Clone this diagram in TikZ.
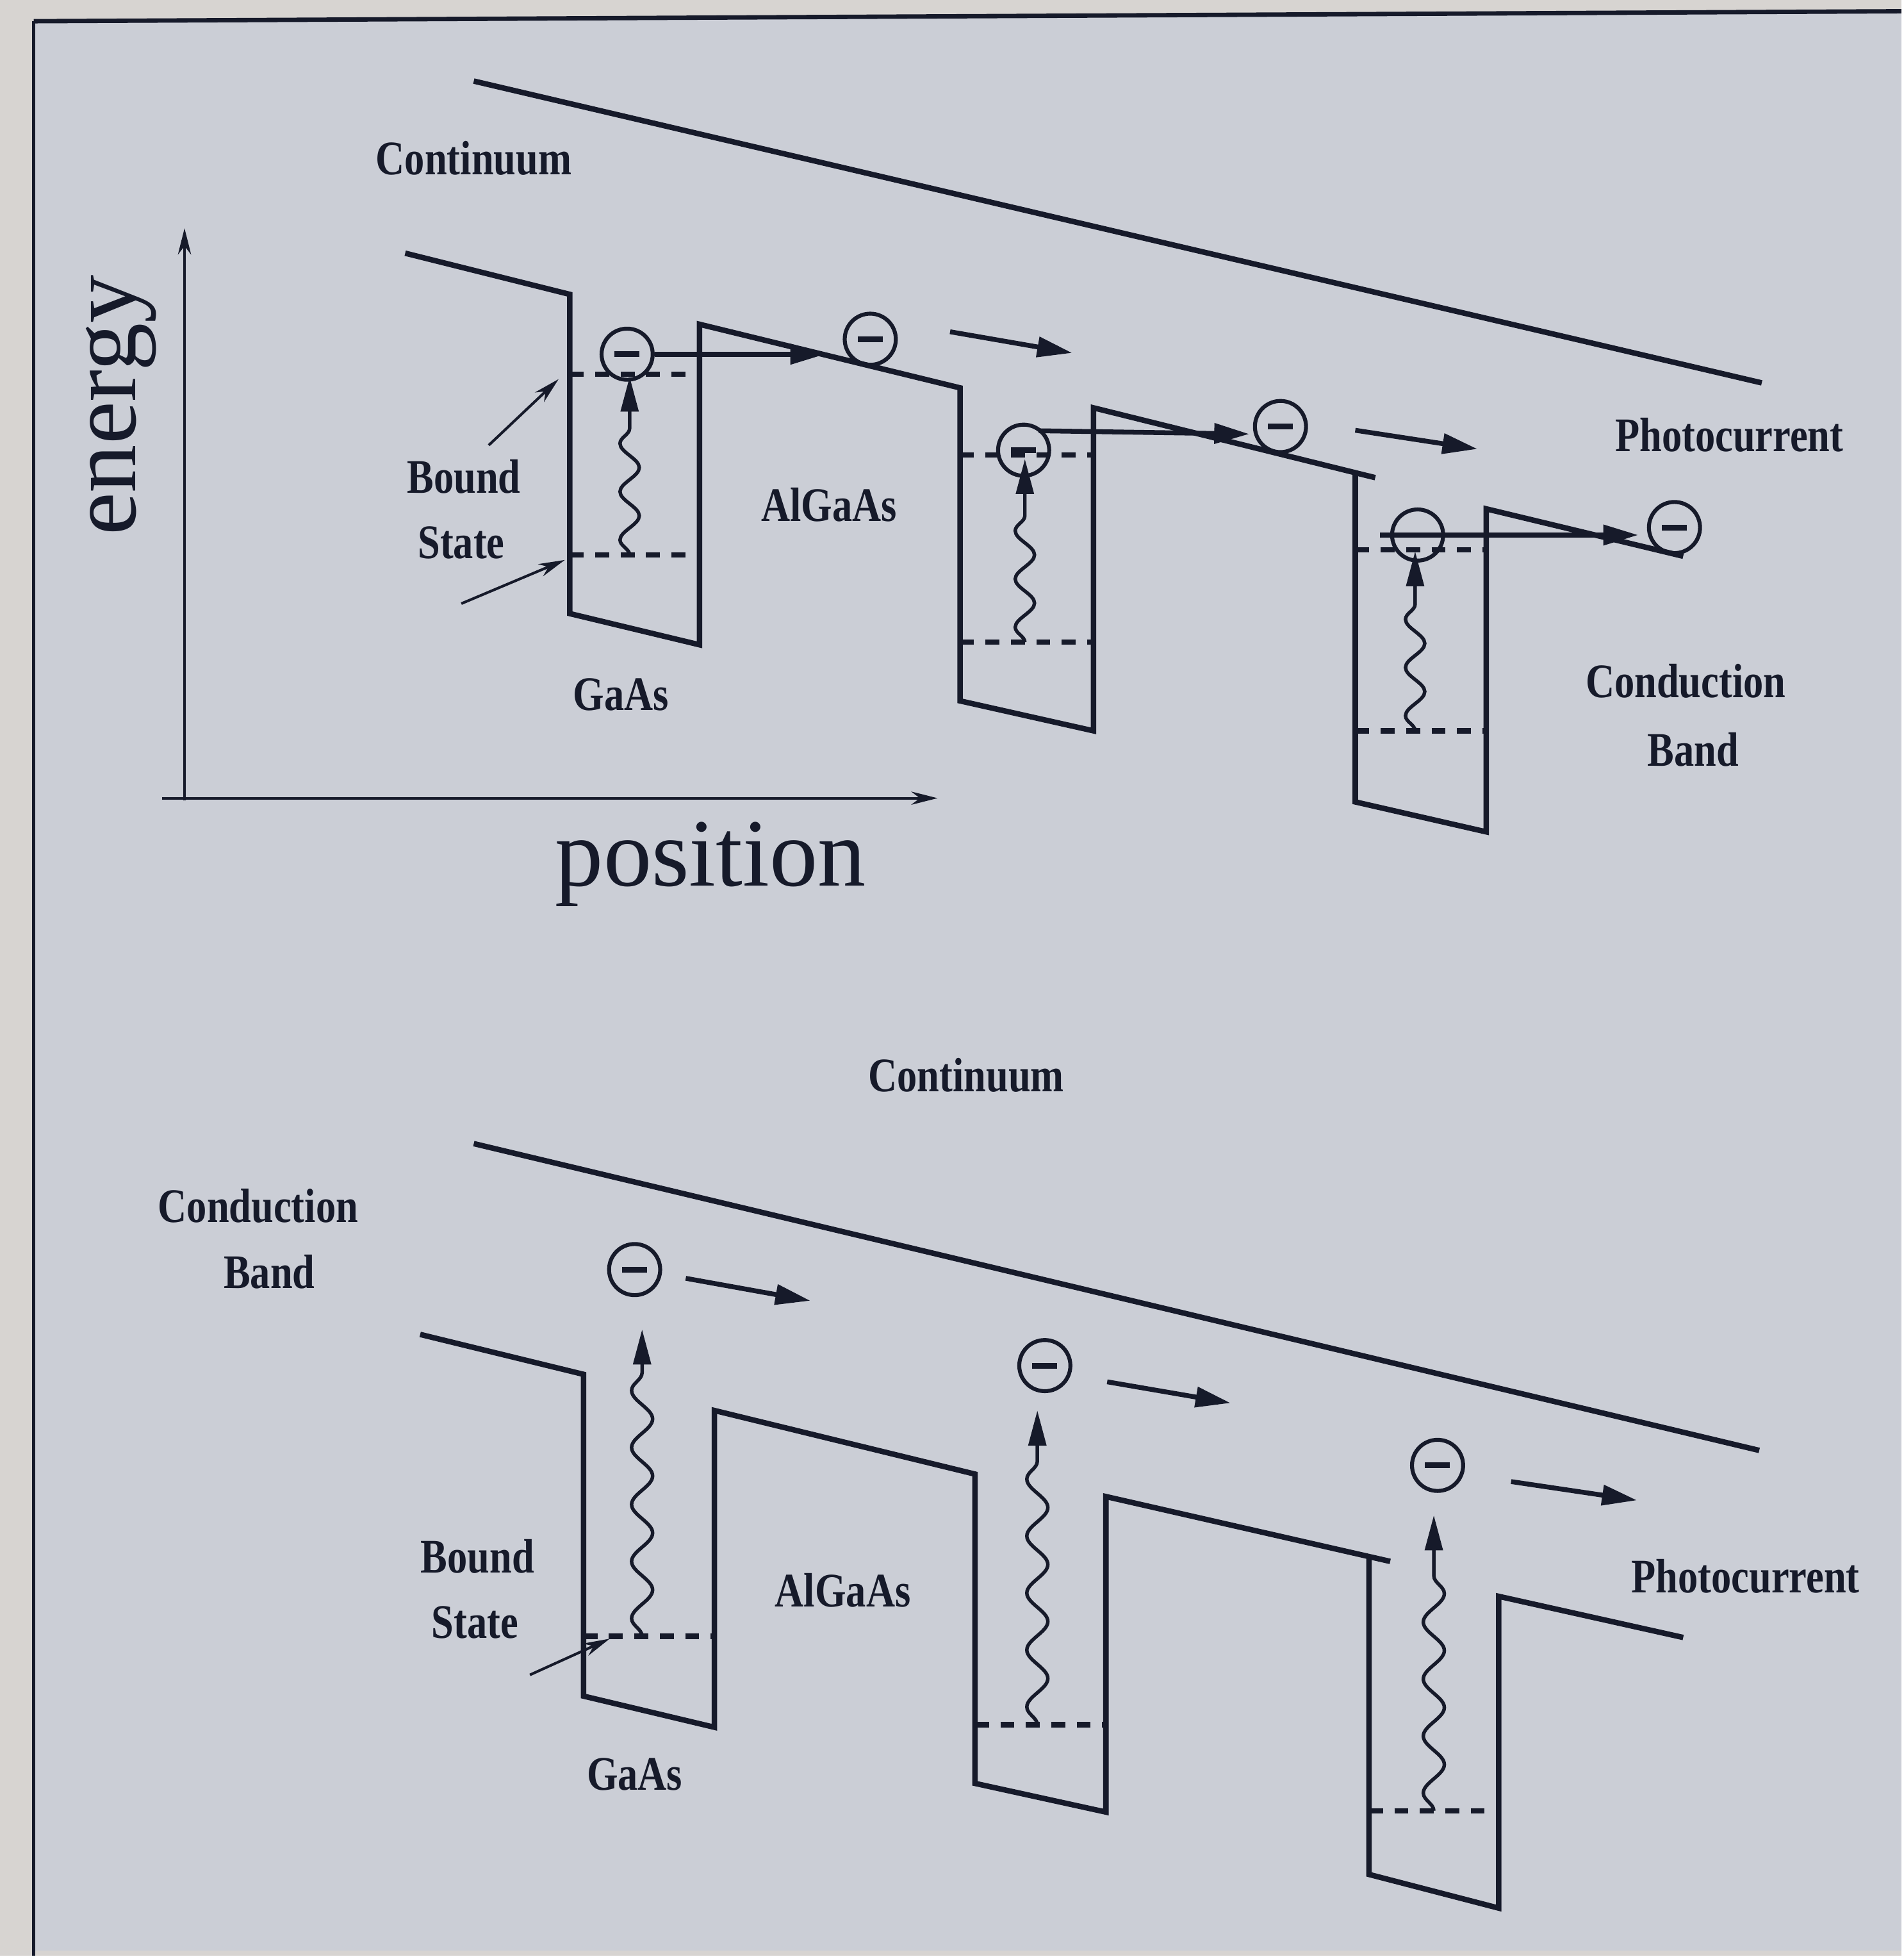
\documentclass[tikz,border=0pt]{standalone}
\usepackage{fontspec}
\setmainfont{Liberation Serif}
\usetikzlibrary{arrows.meta,decorations.pathmorphing}

\definecolor{paper}{RGB}{203,206,214}
\definecolor{rim}{RGB}{215,212,209}
\definecolor{ink}{RGB}{22,26,42}

% condensed bold label lettering
\newcommand{\narrowtext}[1]{\scalebox{0.83}[1]{#1}}

\begin{document}
\begin{tikzpicture}[x=0.1mm,y=-0.1mm,
  band/.style={ink, line width=1.25pt, line join=miter},
  level/.style={ink, line width=1.2pt, dash pattern=on 3.2pt off 2.6pt},
  frameline/.style={ink, line width=0.7pt},
  axis/.style={ink, line width=0.6pt, -{Stealth[length=6pt,width=3pt]}},
  pointer/.style={ink, line width=0.6pt, -{Stealth[length=6pt,width=3pt]}},
  drift/.style={ink, line width=1.1pt, -{Triangle[length=8pt,width=4.5pt]}},
  photon/.style={ink, line width=0.8pt, decorate,
    decoration={snake, amplitude=2.2pt, segment length=11pt, post length=8pt},
    -{Triangle[length=8pt,width=4pt]}},
  photonlong/.style={photon, decoration={snake, amplitude=2.4pt, segment length=13pt, post length=9pt}},
  electron/.style={circle, draw=ink, line width=0.9pt, minimum size=4.1mm, inner sep=0pt,
    path picture={\draw[ink,line width=1.3pt]
      ([xshift=-1mm]path picture bounding box.center) --
      ([xshift=1mm]path picture bounding box.center);}},
  lbl/.style={ink, font=\fontsize{11}{12}\selectfont\bfseries, inner sep=0pt},
  big/.style={ink, font=\fontsize{22}{24}\selectfont, inner sep=0pt}
]

% page and framed panel
\fill[rim] (0,0) rectangle (1525,1568);
\fill[paper] (27,17) -- (1525,9) -- (1525,1564) -- (27,1564) -- cycle;
\draw[ink, line width=1pt] (27,17) -- (1525,9);
\draw[frameline] (27,17) -- (27,1568);

% ================= upper panel =================
\draw[band] (380,65) -- (1413,307);
\node[lbl] (contA) at (380,127) {\narrowtext{Continuum}};

% axes
\coordinate (org) at (148,642);
\coordinate (ytop) at (148,183);
\coordinate (xleft) at (130,640);
\coordinate (xright) at (752,640);
\draw[axis] (org) -- (ytop);
\draw[axis] (xleft) -- (xright);
\node[big, rotate=90] (energy) at (97,325) {energy};
\node[big] (position) at (570,693) {position};

% conduction band profile
\draw[band] (325,203) -- (457,236) -- (457,492) -- (561,517) -- (561,260)
  -- (770,311) -- (770,562) -- (877,586) -- (877,327) -- (1103,383);
\draw[band] (1087,380) -- (1087,643) -- (1192,667) -- (1192,408) -- (1350,446);

% confined levels
\draw[level] (457,300) -- (561,300);
\draw[level] (457,445) -- (561,445);
\draw[level] (770,365) -- (877,365);
\draw[level] (770,515) -- (877,515);
\draw[level] (1087,441) -- (1192,441);
\draw[level] (1087,586) -- (1192,586);

% photon absorption
\draw[photon] (505,445) -- (505,302);
\draw[photon] (822,515) -- (822,368);
\draw[photon] (1135,586) -- (1135,442);

% electrons
\node[electron] (e1) at (503,284) {};
\node[electron] (e2) at (698,272) {};
\node[electron] (e3) at (821,361) {};
\node[electron] (e4) at (1027,342) {};
\node[circle, draw=ink, line width=0.9pt, minimum size=4.1mm, inner sep=0pt] (e5) at (1137,429) {};
\node[electron] (e6) at (1343,423) {};

% escape over the barriers
\coordinate (t1) at (662,284);
\coordinate (t2) at (1002,348);
\coordinate (t3) at (1314,429);
\draw[drift] (e1.east) -- (t1);
\draw[drift] ([xshift=-1pt]e3.north east) -- (t2);
\draw[drift] ([xshift=-3mm]e5.center) -- (t3);

% drift toward the collector
\coordinate (d1a) at (762,266);
\coordinate (d1b) at (860,283);
\coordinate (d2a) at (1087,345);
\coordinate (d2b) at (1185,360);
\draw[drift] (d1a) -- (d1b);
\draw[drift] (d2a) -- (d2b);

% labels
\node[lbl] (bndA) at (372,382) {\narrowtext{Bound}};
\node[lbl] (stA) at (370,435) {\narrowtext{State}};
\coordinate (pA1) at (392,357);
\coordinate (pA2) at (448,304);
\coordinate (pA3) at (370,484);
\coordinate (pA4) at (453,449);
\draw[pointer] (pA1) -- (pA2);
\draw[pointer] (pA3) -- (pA4);
\node[lbl] (algaA) at (665,405) {\narrowtext{AlGaAs}};
\node[lbl] (gaasA) at (498,557) {\narrowtext{GaAs}};
\node[lbl] (photoA) at (1387,349) {\narrowtext{Photocurrent}};
\node[lbl] (condA) at (1352,546) {\narrowtext{Conduction}};
\node[lbl] (bandA) at (1358,601) {\narrowtext{Band}};

% ================= lower panel =================
\node[lbl] (contB) at (775,862) {\narrowtext{Continuum}};
\draw[band] (380,917) -- (1411,1163);
\node[lbl] (condB) at (207,967) {\narrowtext{Conduction}};
\node[lbl] (bandB) at (216,1020) {\narrowtext{Band}};

\draw[band] (337,1070) -- (468,1102) -- (468,1360) -- (573,1385) -- (573,1131)
  -- (782,1182) -- (782,1430) -- (887,1453) -- (887,1200) -- (1115,1252);
\draw[band] (1098,1249) -- (1098,1503) -- (1202,1530) -- (1202,1280) -- (1350,1313);

\draw[level] (468,1312) -- (573,1312);
\draw[level] (782,1383) -- (887,1383);
\draw[level] (1098,1452) -- (1202,1452);

\draw[photonlong] (515,1312) -- (515,1066);
\draw[photonlong] (832,1383) -- (832,1131);
\draw[photonlong] (1150,1452) -- (1150,1215);

\node[electron] (f1) at (509,1018) {};
\node[electron] (f2) at (838,1095) {};
\node[electron] (f3) at (1153,1175) {};

\coordinate (g1a) at (550,1025);
\coordinate (g1b) at (650,1043);
\coordinate (g2a) at (888,1108);
\coordinate (g2b) at (987,1125);
\coordinate (g3a) at (1212,1188);
\coordinate (g3b) at (1313,1203);
\draw[drift] (g1a) -- (g1b);
\draw[drift] (g2a) -- (g2b);
\draw[drift] (g3a) -- (g3b);

\node[lbl] (bndB) at (383,1248) {\narrowtext{Bound}};
\node[lbl] (stB) at (381,1301) {\narrowtext{State}};
\coordinate (pB1) at (425,1343);
\coordinate (pB2) at (489,1314);
\draw[pointer] (pB1) -- (pB2);
\node[lbl] (algaB) at (676,1275) {\narrowtext{AlGaAs}};
\node[lbl] (gaasB) at (509,1423) {\narrowtext{GaAs}};
\node[lbl] (photoB) at (1400,1264) {\narrowtext{Photocurrent}};

\end{tikzpicture}
\end{document}
